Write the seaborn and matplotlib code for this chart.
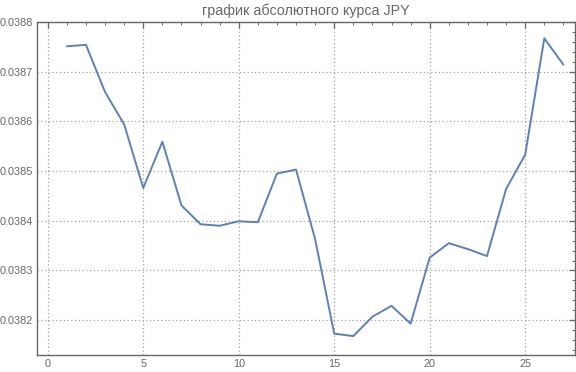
import numpy as np
import pandas as pd
import matplotlib
matplotlib.use("Agg")
import matplotlib.pyplot as plt
import seaborn as sns
from matplotlib.ticker import MultipleLocator, FormatStrFormatter

days = list(range(1, 28))
rate = [0.038751, 0.038754, 0.038659, 0.038594, 0.038466, 0.038559, 0.038431,
        0.038393, 0.038390, 0.038399, 0.038397, 0.038495, 0.038503, 0.038363,
        0.038173, 0.038168, 0.038207, 0.038229, 0.038193, 0.038326, 0.038355,
        0.038343, 0.038329, 0.038464, 0.038533, 0.038767, 0.038714]
title = "график абсолютного курса JPY"

df = pd.DataFrame({"day": days, "rate": rate})

sns.set_theme(style="white")
plt.rcParams['font.family'] = ['Liberation Sans', 'DejaVu Sans']

fig = plt.figure(figsize=(5.76, 3.72), dpi=100)
ax = fig.add_axes([0.0637, 0.0457, 0.9343, 0.8953])

sns.lineplot(data=df, x="day", y="rate", ax=ax, color="#5e81b5", linewidth=1.4)

ax.set_xlim(-0.58, 27.6)
ax.set_ylim(0.03813, 0.03880)
ax.xaxis.set_major_locator(MultipleLocator(5))
ax.xaxis.set_minor_locator(MultipleLocator(1))
ax.yaxis.set_major_locator(MultipleLocator(0.0001))
ax.yaxis.set_minor_locator(MultipleLocator(0.00002))
ax.yaxis.set_major_formatter(FormatStrFormatter('%.4f'))

ax.grid(True, which='major', linestyle=(0, (1, 2)), color='#a0a0a0', linewidth=0.9)
ax.set_axisbelow(True)

for s in ax.spines.values():
    s.set_color('#666666')
    s.set_linewidth(1.0)

ax.tick_params(which='both', direction='in', top=True, right=True, color='#666666',
               labelcolor='#666666', labelsize=7.8, pad=3)
ax.tick_params(which='major', length=4, width=0.9)
ax.tick_params(which='minor', length=2.2, width=0.7)

ax.set_xlabel("")
ax.set_ylabel("")
ax.set_title(title, color='#666666', fontsize=10.3, pad=5)

fig.savefig("out.png", dpi=100)
